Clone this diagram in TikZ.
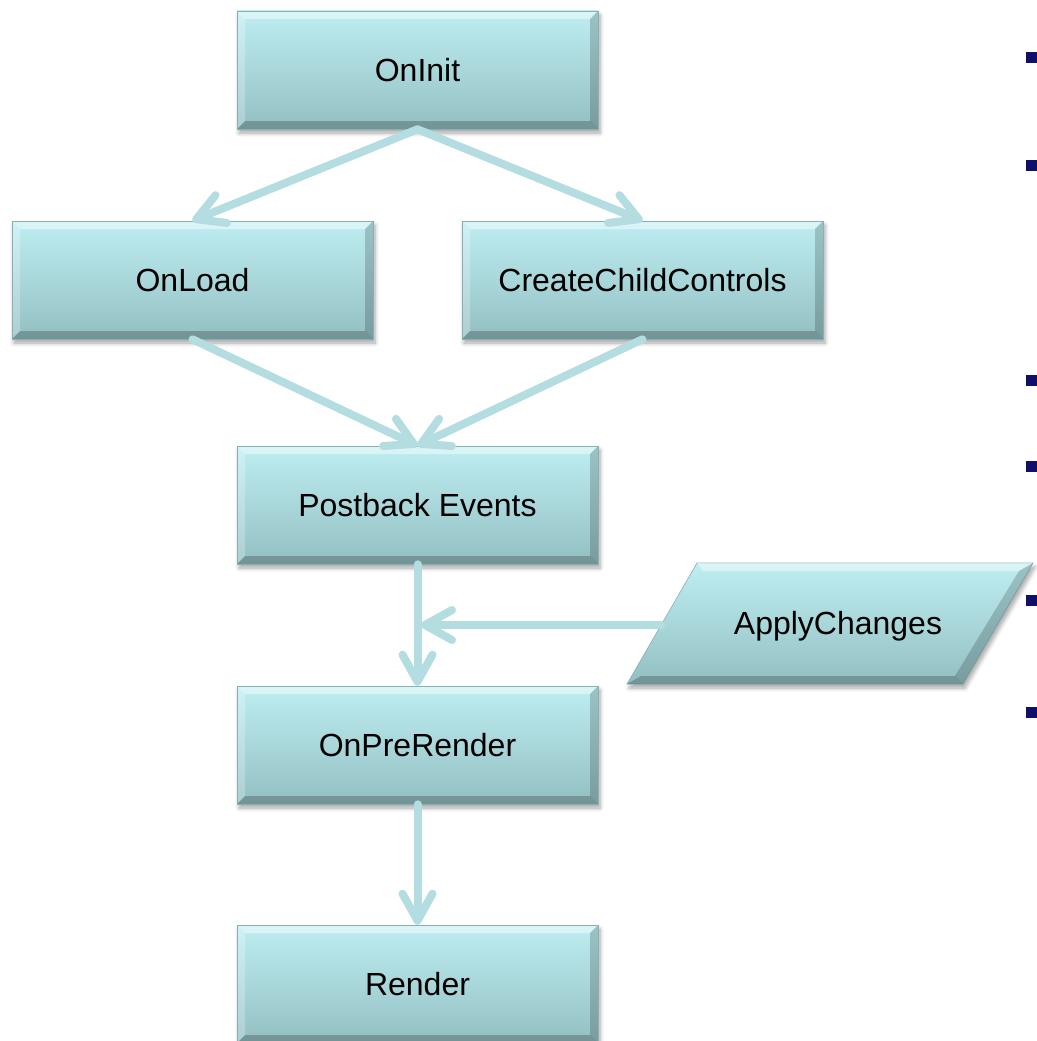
\documentclass[tikz,border=0pt]{standalone}
\usepackage{fontspec}
\setmainfont{Liberation Sans}
\usetikzlibrary{arrows.meta,shadows.blur}

\definecolor{boxtop}{HTML}{BEEEF2}
\definecolor{boxbot}{HTML}{93BFC2}
\definecolor{boxedge}{HTML}{86B0B4}
\definecolor{flow}{HTML}{B4DDE1}
\definecolor{bullet}{HTML}{10106A}

\tikzset{
  stagebox/.style={
    rectangle, minimum width=361pt, minimum height=118pt,
    top color=boxtop, bottom color=boxbot, draw=boxedge, line width=0.6pt,
    font=\fontsize{32}{38}\selectfont, text=black,
    blur shadow={shadow xshift=2pt, shadow yshift=-4pt, shadow blur steps=6,
                 shadow blur radius=4pt, shadow opacity=35},
    path picture={
      % bevelled edges: lit top/left, shaded bottom/right
      \fill[white, opacity=.45]
        (path picture bounding box.north west) -- (path picture bounding box.north east)
        -- ++(-8pt,-8pt) -- ([shift={(8pt,-8pt)}]path picture bounding box.north west) -- cycle;
      \fill[white, opacity=.25]
        (path picture bounding box.north west) -- (path picture bounding box.south west)
        -- ++(8pt,8pt) -- ([shift={(8pt,-8pt)}]path picture bounding box.north west) -- cycle;
      \fill[black, opacity=.18]
        (path picture bounding box.north east) -- (path picture bounding box.south east)
        -- ++(-8pt,8pt) -- ([shift={(-8pt,-8pt)}]path picture bounding box.north east) -- cycle;
      \fill[black, opacity=.22]
        (path picture bounding box.south west) -- (path picture bounding box.south east)
        -- ++(-8pt,8pt) -- ([shift={(8pt,8pt)}]path picture bounding box.south west) -- cycle;
    }},
  flowarrow/.style={
    draw=flow, line width=8pt, line cap=round,
    -{Straight Barb[length=27pt, width=30pt, round]}},
  plainlabel/.style={font=\fontsize{32}{38}\selectfont, text=black},
  bulletmark/.style={fill=bullet}
}

\begin{document}
\begin{tikzpicture}[x=1pt, y=-1pt]
  \useasboundingbox (0,0) rectangle (1036,1041);

  % stages of the control life cycle
  \node[stagebox] (oninit)   at (417.5, 70)  {OnInit};
  \node[stagebox] (onload)   at (192.5, 280) {OnLoad};
  \node[stagebox] (ccc)      at (642.5, 280) {CreateChildControls};
  \node[stagebox] (postback) at (417.5, 505) {Postback Events};
  \node[stagebox] (prerender) at (417.5, 745) {OnPreRender};
  \node[stagebox] (render)   at (417.5, 984) {Render};

  % ApplyChanges input (parallelogram)
  \shade[top color=boxtop, bottom color=boxbot, draw=boxedge, line width=0.6pt,
         blur shadow={shadow xshift=2pt, shadow yshift=-4pt, shadow blur steps=6,
                      shadow blur radius=4pt, shadow opacity=35}]
    (627,684) -- (963,684) -- (1033,563) -- (697,563) -- cycle;
  \fill[white, opacity=.45] (697,563) -- (1033,563) -- (1019,571) -- (703,571) -- cycle;
  \fill[black, opacity=.22] (627,684) -- (963,684) -- (955,676) -- (641,676) -- cycle;
  \fill[black, opacity=.18] (963,684) -- (1033,563) -- (1019,571) -- (955,676) -- cycle;
  \node[plainlabel] (apply) at (838,626) {ApplyChanges};
  \coordinate (applyin) at (661,625);
  \coordinate (merge) at (421,625);

  % flow
  \draw[flowarrow] (oninit.south) -- (onload.north);
  \draw[flowarrow] (oninit.south) -- (ccc.north);
  \draw[flowarrow] (onload.south) -- (postback.north);
  \draw[flowarrow] (ccc.south) -- (postback.north);
  \draw[flowarrow] (postback.south) -- (prerender.north);
  \draw[flowarrow] (applyin) -- (merge);
  \draw[flowarrow] (prerender.south) -- (render.north);

  % list markers at the right margin
  \foreach \y in {58,165,380,466,600,712}
    \fill[bulletmark] (1026,\y-5.5) rectangle (1038,\y+5.5);
\end{tikzpicture}
\end{document}
